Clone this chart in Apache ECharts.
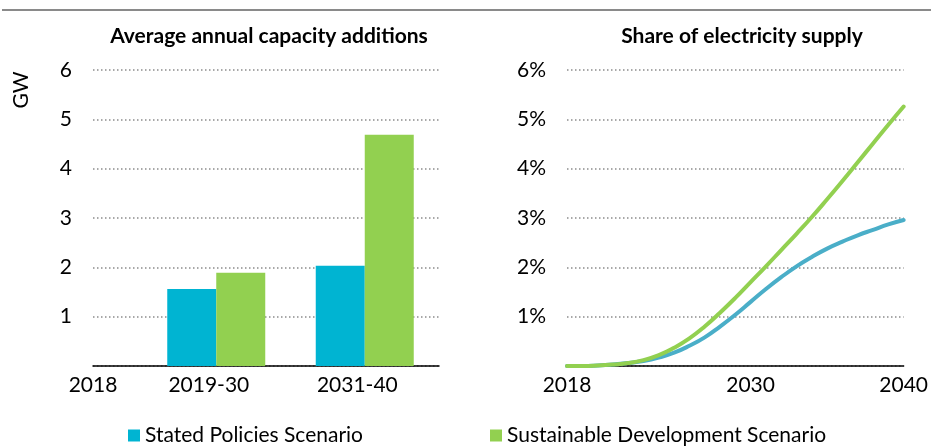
<!DOCTYPE html>
<html>
<head>
<meta charset="utf-8">
<script src="https://cdn.jsdelivr.net/npm/echarts@6/dist/echarts.min.js"></script>
<style>
html,body{margin:0;padding:0;background:#fff;}
#c{width:931px;height:448px;}
</style>
</head>
<body>
<div id="c"></div>
<script>
// ---- data ----
const barCategories = ['2018', '2019-30', '2031-40'];
const barStated = [0, 1.56, 2.03];
const barSustainable = [0, 1.89, 4.69];

const years = ['2018','2019','2020','2021','2022','2023','2024','2025','2026','2027','2028',
               '2029','2030','2031','2032','2033','2034','2035','2036','2037','2038','2039','2040'];
const lineStated = [0, 0, 0.01, 0.03, 0.06, 0.1, 0.17, 0.27, 0.41, 0.58, 0.8,
                    1.04, 1.3, 1.56, 1.8, 2.02, 2.21, 2.38, 2.52, 2.65, 2.76, 2.87, 2.96];
const lineSustainable = [0, 0, 0.01, 0.03, 0.06, 0.12, 0.22, 0.37, 0.56, 0.8, 1.08,
                         1.38, 1.7, 2.02, 2.35, 2.68, 3.02, 3.38, 3.75, 4.13, 4.51, 4.89, 5.26];
const lineTickLabels = ['2018', '2030', '2040'];

const seriesNames = ['Stated Policies Scenario', 'Sustainable Development Scenario'];
const titles = ['Average annual capacity additions', 'Share of electricity supply'];
const yUnit = 'GW';

// ---- styles ----
const FONT = 'Lato';
const FS = 21;
const BLUE_BAR = '#00b4d2';
const BLUE_LINE = '#4aaec8';
const GREEN = '#92d050';
const gridLine = { color: '#8c8c8c', width: 1.5, type: [1.5, 2.5] };

const chart = echarts.init(document.getElementById('c'));
chart.setOption({
  animation: false,
  textStyle: { fontFamily: FONT },
  title: [
    { text: titles[0], left: 264, top: 21, textAlign: 'center',
      textStyle: { fontFamily: FONT, fontWeight: 'bold', fontSize: 21, color: '#000' } },
    { text: titles[1], left: 737, top: 21, textAlign: 'center',
      textStyle: { fontFamily: FONT, fontWeight: 'bold', fontSize: 21, color: '#000' } }
  ],
  graphic: [
    { type: 'line', shape: { x1: 2, y1: 10, x2: 931, y2: 10 }, style: { stroke: '#8a8a8a', lineWidth: 2 } },
    { type: 'text', x: 21, y: 90, rotation: Math.PI / 2,
      style: { text: yUnit, fontFamily: FONT, fontSize: FS, fill: '#000', align: 'center', verticalAlign: 'middle' } }
  ],
  legend: [
    { data: [seriesNames[0]], left: 128, top: 425, icon: 'rect', itemWidth: 12, itemHeight: 12, itemGap: 0,
      padding: 0, textStyle: { fontFamily: FONT, fontSize: FS, color: '#000', padding: [0, 0, 0, 0] }, selectedMode: false },
    { data: [seriesNames[1]], left: 490, top: 425, icon: 'rect', itemWidth: 12, itemHeight: 12, itemGap: 0,
      padding: 0, textStyle: { fontFamily: FONT, fontSize: FS, color: '#000', padding: [0, 0, 0, 0] }, selectedMode: false }
  ],
  grid: [
    { left: 93, right: 492, top: 70, bottom: 82 },
    { left: 567, right: 24, top: 70, bottom: 82 }
  ],
  xAxis: [
    { type: 'value', gridIndex: 0, min: 0.17, max: 2.5,
      axisLine: { show: true, onZero: false, lineStyle: { color: '#000', width: 1.5 } },
      axisTick: { show: false }, splitLine: { show: false },
      axisLabel: { customValues: [0.17, 0.95, 1.95], fontSize: FS, color: '#000', margin: 9,
        formatter: v => barCategories[Math.round(v)] } },
    { type: 'category', gridIndex: 1, data: years, boundaryGap: false,
      axisLine: { show: true, lineStyle: { color: '#000', width: 1.5 } },
      axisTick: { show: false }, splitLine: { show: false },
      axisLabel: { interval: (i, v) => lineTickLabels.includes(v), fontSize: FS, color: '#000', margin: 9,
        showMaxLabel: true } }
  ],
  yAxis: [
    { type: 'value', gridIndex: 0, min: 0, max: 6, interval: 1,
      axisLine: { show: false }, axisTick: { show: false },
      axisLabel: { showMinLabel: false, fontSize: FS, color: '#000', margin: 21 },
      splitLine: { show: true, lineStyle: gridLine } },
    { type: 'value', gridIndex: 1, min: 0, max: 6, interval: 1,
      axisLine: { show: false }, axisTick: { show: false },
      axisLabel: { showMinLabel: false, fontSize: FS, color: '#000', margin: 21, formatter: '{value}%' },
      splitLine: { show: true, lineStyle: gridLine } }
  ],
  series: [
    { name: seriesNames[0], type: 'bar', xAxisIndex: 0, yAxisIndex: 0, barWidth: 49, barGap: '0%',
      itemStyle: { color: BLUE_BAR }, data: barStated.map((v, i) => [i, v]) },
    { name: seriesNames[1], type: 'bar', xAxisIndex: 0, yAxisIndex: 0, barWidth: 49, barGap: '0%',
      itemStyle: { color: GREEN }, data: barSustainable.map((v, i) => [i, v]) },
    { name: seriesNames[0], type: 'line', xAxisIndex: 1, yAxisIndex: 1, smooth: 0.5, showSymbol: false,
      lineStyle: { color: BLUE_LINE, width: 4, cap: 'round' }, itemStyle: { color: BLUE_BAR }, data: lineStated },
    { name: seriesNames[1], type: 'line', xAxisIndex: 1, yAxisIndex: 1, smooth: 0.5, showSymbol: false,
      lineStyle: { color: GREEN, width: 4, cap: 'round' }, itemStyle: { color: GREEN }, data: lineSustainable }
  ]
});
</script>
</body>
</html>
